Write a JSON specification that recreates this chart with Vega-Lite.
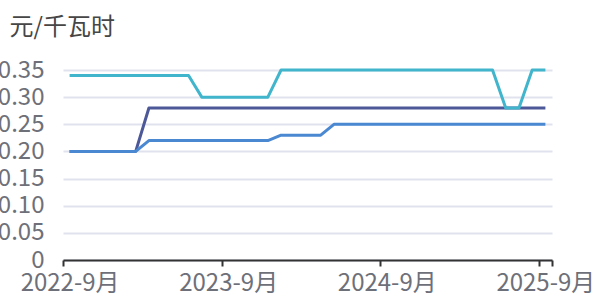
{
  "$schema": "https://vega.github.io/schema/vega-lite/v6.json",
  "width": 489,
  "height": 190,
  "autosize": "none",
  "padding": {"left": 63, "top": 70, "right": 45, "bottom": 38},
  "background": "white",
  "config": {
    "view": {"stroke": null},
    "font": "Noto Sans CJK SC"
  },
  "data": {
    "values": [
      {"i": 0, "m": "2022-9月", "A": 0.20, "B": 0.20, "C": 0.34},
      {"i": 1, "m": "2022-10月", "A": 0.20, "B": 0.20, "C": 0.34},
      {"i": 2, "m": "2022-11月", "A": 0.20, "B": 0.20, "C": 0.34},
      {"i": 3, "m": "2022-12月", "A": 0.20, "B": 0.20, "C": 0.34},
      {"i": 4, "m": "2023-1月", "A": 0.20, "B": 0.20, "C": 0.34},
      {"i": 5, "m": "2023-2月", "A": 0.20, "B": 0.20, "C": 0.34},
      {"i": 6, "m": "2023-3月", "A": 0.28, "B": 0.22, "C": 0.34},
      {"i": 7, "m": "2023-4月", "A": 0.28, "B": 0.22, "C": 0.34},
      {"i": 8, "m": "2023-5月", "A": 0.28, "B": 0.22, "C": 0.34},
      {"i": 9, "m": "2023-6月", "A": 0.28, "B": 0.22, "C": 0.34},
      {"i": 10, "m": "2023-7月", "A": 0.28, "B": 0.22, "C": 0.30},
      {"i": 11, "m": "2023-8月", "A": 0.28, "B": 0.22, "C": 0.30},
      {"i": 12, "m": "2023-9月", "A": 0.28, "B": 0.22, "C": 0.30},
      {"i": 13, "m": "2023-10月", "A": 0.28, "B": 0.22, "C": 0.30},
      {"i": 14, "m": "2023-11月", "A": 0.28, "B": 0.22, "C": 0.30},
      {"i": 15, "m": "2023-12月", "A": 0.28, "B": 0.22, "C": 0.30},
      {"i": 16, "m": "2024-1月", "A": 0.28, "B": 0.23, "C": 0.35},
      {"i": 17, "m": "2024-2月", "A": 0.28, "B": 0.23, "C": 0.35},
      {"i": 18, "m": "2024-3月", "A": 0.28, "B": 0.23, "C": 0.35},
      {"i": 19, "m": "2024-4月", "A": 0.28, "B": 0.23, "C": 0.35},
      {"i": 20, "m": "2024-5月", "A": 0.28, "B": 0.25, "C": 0.35},
      {"i": 21, "m": "2024-6月", "A": 0.28, "B": 0.25, "C": 0.35},
      {"i": 22, "m": "2024-7月", "A": 0.28, "B": 0.25, "C": 0.35},
      {"i": 23, "m": "2024-8月", "A": 0.28, "B": 0.25, "C": 0.35},
      {"i": 24, "m": "2024-9月", "A": 0.28, "B": 0.25, "C": 0.35},
      {"i": 25, "m": "2024-10月", "A": 0.28, "B": 0.25, "C": 0.35},
      {"i": 26, "m": "2024-11月", "A": 0.28, "B": 0.25, "C": 0.35},
      {"i": 27, "m": "2024-12月", "A": 0.28, "B": 0.25, "C": 0.35},
      {"i": 28, "m": "2025-1月", "A": 0.28, "B": 0.25, "C": 0.35},
      {"i": 29, "m": "2025-2月", "A": 0.28, "B": 0.25, "C": 0.35},
      {"i": 30, "m": "2025-3月", "A": 0.28, "B": 0.25, "C": 0.35},
      {"i": 31, "m": "2025-4月", "A": 0.28, "B": 0.25, "C": 0.35},
      {"i": 32, "m": "2025-5月", "A": 0.28, "B": 0.25, "C": 0.35},
      {"i": 33, "m": "2025-6月", "A": 0.28, "B": 0.25, "C": 0.28},
      {"i": 34, "m": "2025-7月", "A": 0.28, "B": 0.25, "C": 0.28},
      {"i": 35, "m": "2025-8月", "A": 0.28, "B": 0.25, "C": 0.35},
      {"i": 36, "m": "2025-9月", "A": 0.28, "B": 0.25, "C": 0.35}
    ]
  },
  "transform": [{"fold": ["A", "B", "C"], "as": ["series", "value"]}],
  "mark": {"type": "line", "strokeWidth": 3, "strokeJoin": "round"},
  "encoding": {
    "x": {
      "field": "i",
      "type": "quantitative",
      "scale": {"domain": [-0.5, 36.5], "nice": false, "zero": false},
      "axis": {
        "title": null,
        "values": [-0.5, 11.5, 23.5, 35.5, 36.5],
        "labelExpr": "datum.value > 36 ? '' : (2022 + (datum.value + 0.5) / 12) + '-9月'",
        "labelOffset": 6.6,
        "labelFlush": false,
        "labelOverlap": false,
        "labelBound": false,
        "labelAngle": 0,
        "labelAlign": "center",
        "labelFontSize": 24,
        "labelColor": "#6e7079",
        "labelPadding": 5,
        "labelBaseline": "top",
        "domainColor": "#333333",
        "domainWidth": 2,
        "tickColor": "#333333",
        "tickWidth": 2,
        "tickSize": 6,
        "grid": false
      }
    },
    "y": {
      "field": "value",
      "type": "quantitative",
      "scale": {"domain": [0, 0.35], "nice": false, "zero": true},
      "axis": {
        "values": [0, 0.05, 0.1, 0.15, 0.2, 0.25, 0.3, 0.35],
        "labelExpr": "datum.value === 0 ? '0' : format(datum.value, '.2f')",
        "labelFontSize": 24,
        "labelColor": "#6e7079",
        "labelPadding": 19,
        "ticks": false,
        "tickSize": 0,
        "domain": false,
        "grid": true,
        "gridColor": "#e0e3ee",
        "gridWidth": 2,
        "title": "元/千瓦时",
        "titleAngle": 0,
        "titleAlign": "left",
        "titleBaseline": "alphabetic",
        "titleX": -54,
        "titleY": -36,
        "titleFontSize": 24,
        "titleFontWeight": "normal",
        "titleColor": "#464646"
      }
    },
    "color": {
      "field": "series",
      "type": "nominal",
      "legend": null,
      "scale": {"domain": ["A", "B", "C"], "range": ["#4c5898", "#4a88d2", "#40b5cc"]}
    }
  }
}
